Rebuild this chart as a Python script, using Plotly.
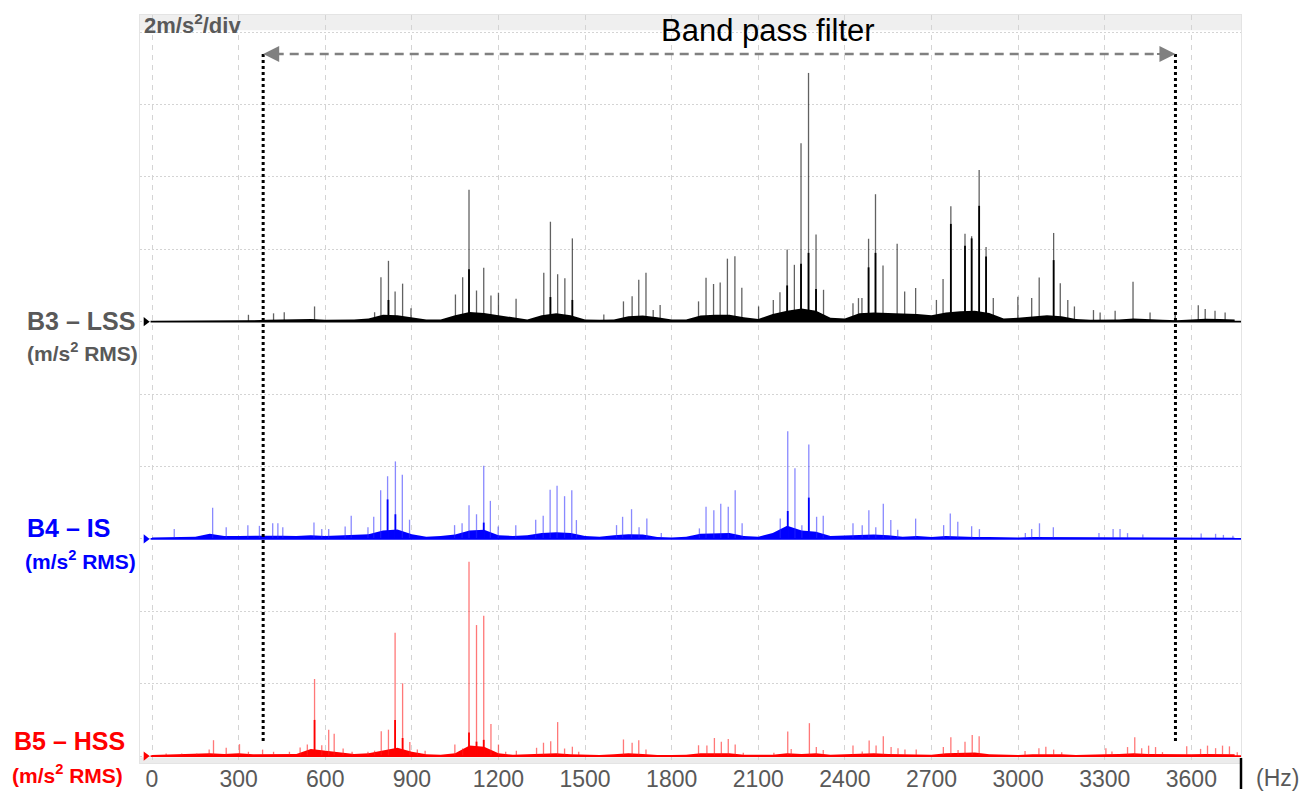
import plotly.graph_objects as go

# ---------------- data ----------------
FREQ_TICKS = list(range(0, 3601, 300))
FLOOR_FREQ = list(range(0, 3751, 50))

B3_OFFSET = 12
B4_OFFSET = 6
B5_OFFSET = 0

b3_floor = [0.02, 0.02, 0.02, 0.02, 0.02, 0.02, 0.03, 0.04, 0.05, 0.06,
            0.05, 0.07, 0.05, 0.05, 0.06, 0.09, 0.19, 0.18, 0.13, 0.06,
            0.06, 0.18, 0.27, 0.24, 0.18, 0.12, 0.06, 0.18, 0.23, 0.18,
            0.06, 0.05, 0.06, 0.15, 0.17, 0.12, 0.06, 0.06, 0.17, 0.19,
            0.19, 0.12, 0.07, 0.21, 0.30, 0.36, 0.30, 0.11, 0.09, 0.23,
            0.25, 0.24, 0.23, 0.21, 0.18, 0.25, 0.29, 0.30, 0.24, 0.09,
            0.11, 0.15, 0.18, 0.15, 0.07, 0.05, 0.05, 0.06, 0.09, 0.06,
            0.05, 0.04, 0.07, 0.08, 0.07, 0.06]
b3_peak_freq = [334, 421, 458, 563, 771, 793, 819, 842, 868, 897, 1051, 1076, 1098, 1124, 1149,
                1174, 1200, 1261, 1357, 1380, 1405, 1430, 1456, 1565, 1633, 1663, 1686, 1711, 1736,
                1760, 1893, 1919, 1945, 1968, 1993, 2019, 2043, 2101, 2152, 2175, 2200, 2225,
                2248, 2274, 2300, 2326, 2428, 2447, 2459, 2482, 2506, 2532, 2581, 2607, 2645,
                2717, 2740, 2767, 2816, 2839, 2865, 2889, 2914, 2999, 3047, 3073, 3123, 3146,
                3172, 3195, 3261, 3284, 3336, 3398, 3457, 3544, 3624, 3648, 3682, 3717]
b3_peak_amp = [0.19, 0.23, 0.26, 0.42, 0.26, 1.23, 1.68, 0.83, 1.05, 0.37, 0.75, 1.23, 3.64, 0.86, 1.49,
               0.72, 0.80, 0.63, 1.35, 2.76, 1.31, 1.20, 2.30, 0.20, 0.56, 0.70, 1.16, 1.35, 0.32,
               0.46, 0.56, 1.21, 1.04, 1.08, 1.74, 1.81, 0.94, 0.42, 0.60, 0.81, 1.99, 1.57,
               4.93, 6.87, 2.41, 0.88, 0.51, 0.65, 0.65, 2.29, 3.52, 1.55, 2.15, 0.83, 0.93,
               0.60, 1.18, 3.19, 2.43, 2.36, 4.19, 2.06, 0.65, 0.69, 0.65, 1.22, 2.45, 1.06,
               0.60, 0.42, 0.32, 0.25, 0.30, 1.10, 0.25, 0.25, 0.45, 0.35, 0.30, 0.25]
b3_core_freq = [819, 1098, 1380, 1456, 2200, 2248, 2274, 2300, 2482, 2506, 2767, 2816, 2839, 2865, 2889, 3123]
b3_core_amp = [0.60, 1.45, 0.68, 0.60, 1.00, 1.60, 1.90, 0.90, 1.50, 1.90, 2.70, 2.10, 2.30, 3.20, 1.80, 1.70]

b4_floor = [0.04, 0.05, 0.05, 0.06, 0.14, 0.08, 0.08, 0.09, 0.10, 0.09,
            0.08, 0.10, 0.08, 0.09, 0.10, 0.13, 0.23, 0.26, 0.13, 0.06,
            0.08, 0.12, 0.23, 0.25, 0.10, 0.08, 0.10, 0.16, 0.18, 0.16,
            0.08, 0.06, 0.10, 0.13, 0.12, 0.05, 0.04, 0.06, 0.14, 0.16,
            0.16, 0.08, 0.06, 0.16, 0.36, 0.23, 0.20, 0.08, 0.09, 0.10,
            0.12, 0.10, 0.06, 0.08, 0.05, 0.08, 0.06, 0.05, 0.05, 0.04,
            0.04, 0.05, 0.05, 0.03, 0.03, 0.04, 0.05, 0.05, 0.03, 0.03,
            0.03, 0.03, 0.04, 0.04, 0.04, 0.03]
b4_peak_freq = [77, 210, 257, 332, 372, 418, 436, 453, 561, 588, 612, 669, 690, 748, 768, 792, 816,
                843, 867, 892, 1048, 1074, 1098, 1124, 1149, 1172, 1199, 1260, 1329, 1355, 1379,
                1403, 1429, 1454, 1470, 1609, 1630, 1661, 1687, 1714, 1764, 1896, 1919, 1946,
                1970, 1996, 2020, 2044, 2176, 2202, 2227, 2251, 2275, 2302, 2325, 2428, 2460,
                2483, 2507, 2533, 2559, 2583, 2645, 2742, 2765, 2791, 2839, 2866, 3025, 3047,
                3074, 3122, 3280, 3329, 3353, 3379, 3432, 3634, 3684, 3711, 3744]
b4_peak_amp = [0.27, 0.86, 0.32, 0.38, 0.36, 0.43, 0.43, 0.32, 0.45, 0.27, 0.27, 0.34, 0.64, 0.32, 0.61, 1.34, 1.73,
               2.14, 1.77, 0.53, 0.38, 0.43, 0.93, 0.68, 2.02, 1.05, 0.34, 0.38, 0.53, 0.64, 1.36,
               1.47, 1.18, 1.34, 0.52, 0.38, 0.61, 0.82, 0.32, 0.56, 0.16, 0.29, 0.89, 0.79,
               0.97, 0.89, 1.34, 0.43, 0.56, 2.97, 1.95, 0.38, 2.61, 0.61, 0.64, 0.43, 0.38,
               0.79, 0.32, 0.97, 0.52, 0.25, 0.56, 0.38, 0.70, 0.47, 0.35, 0.27, 0.16, 0.27,
               0.43, 0.32, 0.16, 0.27, 0.27, 0.16, 0.12, 0.15, 0.14, 0.11, 0.09]
b4_core_freq = [816, 843, 1149, 2202, 2275]
b4_core_amp = [1.09, 0.68, 0.45, 0.77, 1.14]

b5_floor = [0.03, 0.04, 0.04, 0.05, 0.08, 0.06, 0.08, 0.05, 0.05, 0.05,
            0.06, 0.20, 0.16, 0.10, 0.06, 0.08, 0.16, 0.23, 0.12, 0.05,
            0.04, 0.08, 0.29, 0.26, 0.08, 0.04, 0.05, 0.06, 0.08, 0.05,
            0.03, 0.03, 0.05, 0.08, 0.06, 0.03, 0.03, 0.04, 0.08, 0.08,
            0.08, 0.04, 0.03, 0.04, 0.08, 0.06, 0.08, 0.04, 0.05, 0.06,
            0.08, 0.06, 0.05, 0.04, 0.04, 0.08, 0.10, 0.10, 0.05, 0.03,
            0.03, 0.05, 0.06, 0.05, 0.03, 0.03, 0.05, 0.06, 0.08, 0.06,
            0.05, 0.04, 0.05, 0.06, 0.06, 0.05]
b5_peak_freq = [49, 103, 155, 198, 213, 257, 303, 334, 383, 421, 476, 513, 538, 563, 588, 612, 631,
                662, 693, 748, 771, 794, 819, 842, 868, 893, 919, 946, 1049, 1076, 1098, 1124,
                1149, 1174, 1200, 1225, 1262, 1332, 1356, 1381, 1405, 1429, 1456, 1478, 1633,
                1663, 1686, 1711, 1893, 1922, 1948, 1972, 1996, 2020, 2048, 2154, 2202, 2214,
                2277, 2301, 2325, 2428, 2460, 2484, 2508, 2533, 2560, 2584, 2608, 2647, 2741,
                2767, 2792, 2816, 2841, 2865, 3024, 3072, 3096, 3123, 3151, 3304, 3325, 3379,
                3404, 3428, 3452, 3476, 3500, 3584, 3632, 3656, 3684, 3708, 3732, 3759]
b5_peak_amp = [0.07, 0.07, 0.07, 0.18, 0.44, 0.23, 0.33, 0.12, 0.18, 0.12, 0.12, 0.24, 0.32, 2.13, 0.30, 0.73, 0.62,
               0.21, 0.12, 0.12, 0.15, 0.69, 0.73, 3.41, 2.01, 0.39, 0.18, 0.15, 0.32, 0.21, 5.37, 3.62,
               3.88, 0.89, 0.32, 0.12, 0.15, 0.23, 0.37, 0.41, 0.94, 0.21, 0.26, 0.12, 0.46,
               0.37, 0.44, 0.18, 0.30, 0.29, 0.50, 0.40, 0.47, 0.32, 0.09, 0.09, 0.68, 0.20,
               0.91, 0.25, 0.17, 0.29, 0.13, 0.43, 0.29, 0.55, 0.25, 0.22, 0.18, 0.18, 0.25,
               0.52, 0.17, 0.40, 0.58, 0.55, 0.14, 0.22, 0.26, 0.18, 0.11, 0.22, 0.13, 0.25,
               0.52, 0.22, 0.29, 0.25, 0.11, 0.27, 0.20, 0.29, 0.22, 0.29, 0.27, 0.11]
b5_core_freq = [563, 842, 868, 1098, 1124, 1149]
b5_core_amp = [1.00, 1.00, 0.50, 0.65, 0.40, 0.45]

BAND_LOW = 385
BAND_HIGH = 3545
X_RANGE = [-41.6, 3772]
Y_RANGE = [-0.19, 20.47]

GRAY_TEXT = "#595959"
FONT = "Liberation Sans, Arial, sans-serif"

# -------------- helpers --------------
PLOT_L, PLOT_R, PLOT_T, PLOT_B = 140, 1241, 15, 763


def px(xpix):
    return (xpix - PLOT_L) / (PLOT_R - PLOT_L)


def py(ypix):
    return (PLOT_B - ypix) / (PLOT_B - PLOT_T)


def spikes(freqs, amps, base):
    xs, ys = [], []
    for f, a in zip(freqs, amps):
        xs += [f, f, None]
        ys += [base, base + a, None]
    return xs, ys


fig = go.Figure()

series = [
    (B3_OFFSET, b3_floor, b3_peak_freq, b3_peak_amp, b3_core_freq, b3_core_amp,
     "#000000", "rgba(0,0,0,0.62)"),
    (B4_OFFSET, b4_floor, b4_peak_freq, b4_peak_amp, b4_core_freq, b4_core_amp,
     "#0000ff", "rgba(40,40,255,0.55)"),
    (B5_OFFSET, b5_floor, b5_peak_freq, b5_peak_amp, b5_core_freq, b5_core_amp,
     "#ff0000", "rgba(255,30,30,0.6)"),
]

for off, floor, pf, pa, cf, ca, col, lcol in series:
    fx = FLOOR_FREQ + FLOOR_FREQ[::-1]
    fy = [off + v for v in floor] + [off] * len(FLOOR_FREQ)
    fig.add_trace(go.Scatter(x=fx, y=fy, fill="toself", fillcolor=col, mode="lines",
                             line=dict(width=0), hoverinfo="skip", showlegend=False))
    sx, sy = spikes(pf, pa, off)
    fig.add_trace(go.Scatter(x=sx, y=sy, mode="lines", line=dict(color=lcol, width=1.3),
                             hoverinfo="skip", showlegend=False))
    cx, cy = spikes(cf, ca, off)
    fig.add_trace(go.Scatter(x=cx, y=cy, mode="lines", line=dict(color=col, width=1.8),
                             hoverinfo="skip", showlegend=False))
    fig.add_trace(go.Scatter(x=[-5, X_RANGE[1]], y=[off, off], mode="lines",
                             line=dict(color=col, width=1.6), hoverinfo="skip", showlegend=False))
    fig.add_trace(go.Scatter(x=[-22], y=[off], mode="markers",
                             marker=dict(symbol="triangle-right", size=8, color=col),
                             cliponaxis=False, hoverinfo="skip", showlegend=False))

shapes = [
    dict(type="rect", xref="paper", yref="y", x0=0, x1=1, y0=20.05, y1=Y_RANGE[1],
         fillcolor="#efefef", line=dict(width=0), layer="between"),
    dict(type="rect", xref="paper", yref="y", x0=0, x1=1, y0=Y_RANGE[0], y1=-0.04,
         fillcolor="#ececec", line=dict(width=0), layer="between"),
    dict(type="line", xref="x", yref="y", x0=BAND_LOW + 40, x1=BAND_HIGH - 40, y0=19.39, y1=19.39,
         line=dict(color="#808080", width=2.5, dash="9px,6px")),
    dict(type="line", xref="x", yref="y", x0=BAND_LOW, x1=BAND_LOW, y0=19.39, y1=0.41,
         line=dict(color="#000000", width=3, dash="3px,3px")),
    dict(type="line", xref="x", yref="y", x0=BAND_HIGH, x1=BAND_HIGH, y0=19.39, y1=0.36,
         line=dict(color="#000000", width=3, dash="3px,3px")),
    dict(type="line", xref="paper", yref="paper", x0=1.0, x1=1.0, y0=py(758), y1=py(789),
         line=dict(color="#000000", width=2.5)),
]

annotations = [
    dict(x=BAND_LOW, y=19.39, xref="x", yref="y", ax=20, ay=0, text="", showarrow=True,
         arrowhead=2, arrowsize=1.6, arrowwidth=2, arrowcolor="#808080", standoff=0),
    dict(x=BAND_HIGH, y=19.39, xref="x", yref="y", ax=-20, ay=0, text="", showarrow=True,
         arrowhead=2, arrowsize=1.6, arrowwidth=2, arrowcolor="#808080", standoff=0),
    dict(x=px(768), y=py(31), xref="paper", yref="paper", text="Band pass filter",
         showarrow=False, xanchor="center", yanchor="middle",
         font=dict(family=FONT, size=31, color="#000000")),
    dict(x=px(142), y=py(24), xref="paper", yref="paper", text="<b>2m/s<sup>2</sup>/div</b>",
         showarrow=False, xanchor="left", yanchor="middle",
         font=dict(family=FONT, size=22, color=GRAY_TEXT)),
    dict(x=px(1254), y=py(778), xref="paper", yref="paper", text="(Hz)",
         showarrow=False, xanchor="left", yanchor="middle",
         font=dict(family=FONT, size=23, color=GRAY_TEXT)),
]

labels = [
    ("B3 – LSS", 25, 321, 25, GRAY_TEXT),
    ("(m/s<sup>2</sup> RMS)", 25, 352, 21, GRAY_TEXT),
    ("B4 – IS", 25, 528, 25, "#0000ff"),
    ("(m/s<sup>2</sup> RMS)", 23, 560, 21, "#0000ff"),
    ("B5 – HSS", 12, 741, 25, "#ff0000"),
    ("(m/s<sup>2</sup> RMS)", 10, 774, 21, "#ff0000"),
]
for txt, lx, ly, sz, col in labels:
    annotations.append(dict(x=px(lx), y=py(ly), xref="paper", yref="paper",
                            text="<b>" + txt + "</b>", showarrow=False,
                            xanchor="left", yanchor="middle",
                            font=dict(family=FONT, size=sz, color=col)))

fig.update_layout(
    width=1304, height=792,
    margin=dict(l=PLOT_L, r=1304 - PLOT_R, t=PLOT_T, b=792 - PLOT_B, autoexpand=False),
    paper_bgcolor="white", plot_bgcolor="white",
    showlegend=False,
    shapes=shapes, annotations=annotations,
    xaxis=dict(range=X_RANGE, tickvals=FREQ_TICKS, ticktext=[str(v) for v in FREQ_TICKS],
               automargin=False, ticklabelstandoff=-5,
               showgrid=True, gridcolor="#d4d4d4", gridwidth=1.2, griddash="5px,5px",
               zeroline=False, showline=True, linecolor="#e4e4e4", mirror=True,
               ticks="", tickfont=dict(family=FONT, size=23, color=GRAY_TEXT)),
    yaxis=dict(range=Y_RANGE, tickvals=list(range(0, 21, 2)), showticklabels=False,
               automargin=False,
               showgrid=True, gridcolor="#d4d4d4", gridwidth=1.2, griddash="2px,2px",
               zeroline=False, showline=True, linecolor="#e4e4e4", mirror=True, ticks=""),
)

fig.write_html("out.html")
